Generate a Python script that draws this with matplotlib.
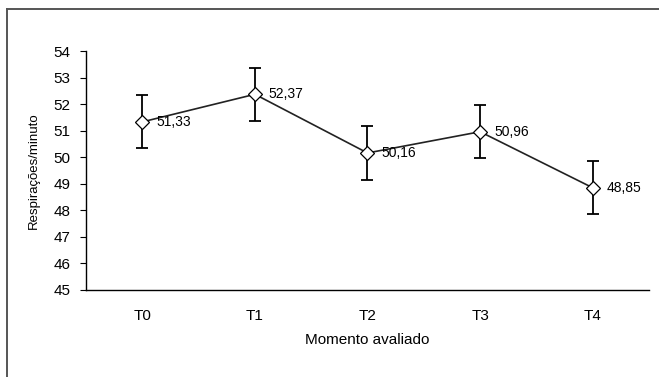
import matplotlib.pyplot as plt
from matplotlib.lines import Line2D

momentos = ['T0', 'T1', 'T2', 'T3', 'T4']
media = [51.33, 52.37, 50.16, 50.96, 48.85]
erro = [1.0, 1.0, 1.0, 1.0, 1.0]
rotulos = ['51,33', '52,37', '50,16', '50,96', '48,85']

plt.rcParams['font.family'] = ['Liberation Sans', 'DejaVu Sans']

fig = plt.figure(figsize=(6.59, 3.77), dpi=100)
ax = fig.add_axes([0.1305, 0.2308, 0.8543, 0.6339])

x = list(range(len(momentos)))
ax.errorbar(x, media, yerr=erro, fmt='none', ecolor='black',
            elinewidth=1.3, capsize=4, capthick=1.3, zorder=2)
ax.plot(x, media, color='#222222', linewidth=1.2, zorder=3,
        marker='D', markersize=7.5, markerfacecolor='white',
        markeredgecolor='black', markeredgewidth=0.9)

for xi, yi, txt in zip(x, media, rotulos):
    ax.annotate(txt, (xi, yi), xytext=(10, 0), textcoords='offset points',
                ha='left', va='center', fontsize=10)

ax.set_xlim(-0.5, 4.5)
ax.set_ylim(45, 54)
ax.set_yticks(range(45, 55))
ax.set_xticks(x)
ax.set_xticklabels(momentos)
ax.tick_params(axis='y', length=4, width=0.8, labelsize=11, pad=7)
ax.tick_params(axis='x', length=0, labelsize=11, pad=14)
ax.spines['top'].set_visible(False)
ax.spines['right'].set_visible(False)
ax.spines['left'].set_linewidth(1.0)
ax.spines['bottom'].set_linewidth(1.0)

ax.set_xlabel('Momento avaliado', fontsize=11, labelpad=7)
ax.set_ylabel('Respirações/minuto', fontsize=9.5, labelpad=10)

# moldura da área do gráfico
fig.add_artist(Line2D([7 / 659, 7 / 659], [0, 1 - 9 / 377],
                      transform=fig.transFigure, color='#555555', linewidth=1.4))
fig.add_artist(Line2D([7 / 659, 1], [1 - 9 / 377, 1 - 9 / 377],
                      transform=fig.transFigure, color='#555555', linewidth=1.4))

fig.savefig('out.png', dpi=100)
